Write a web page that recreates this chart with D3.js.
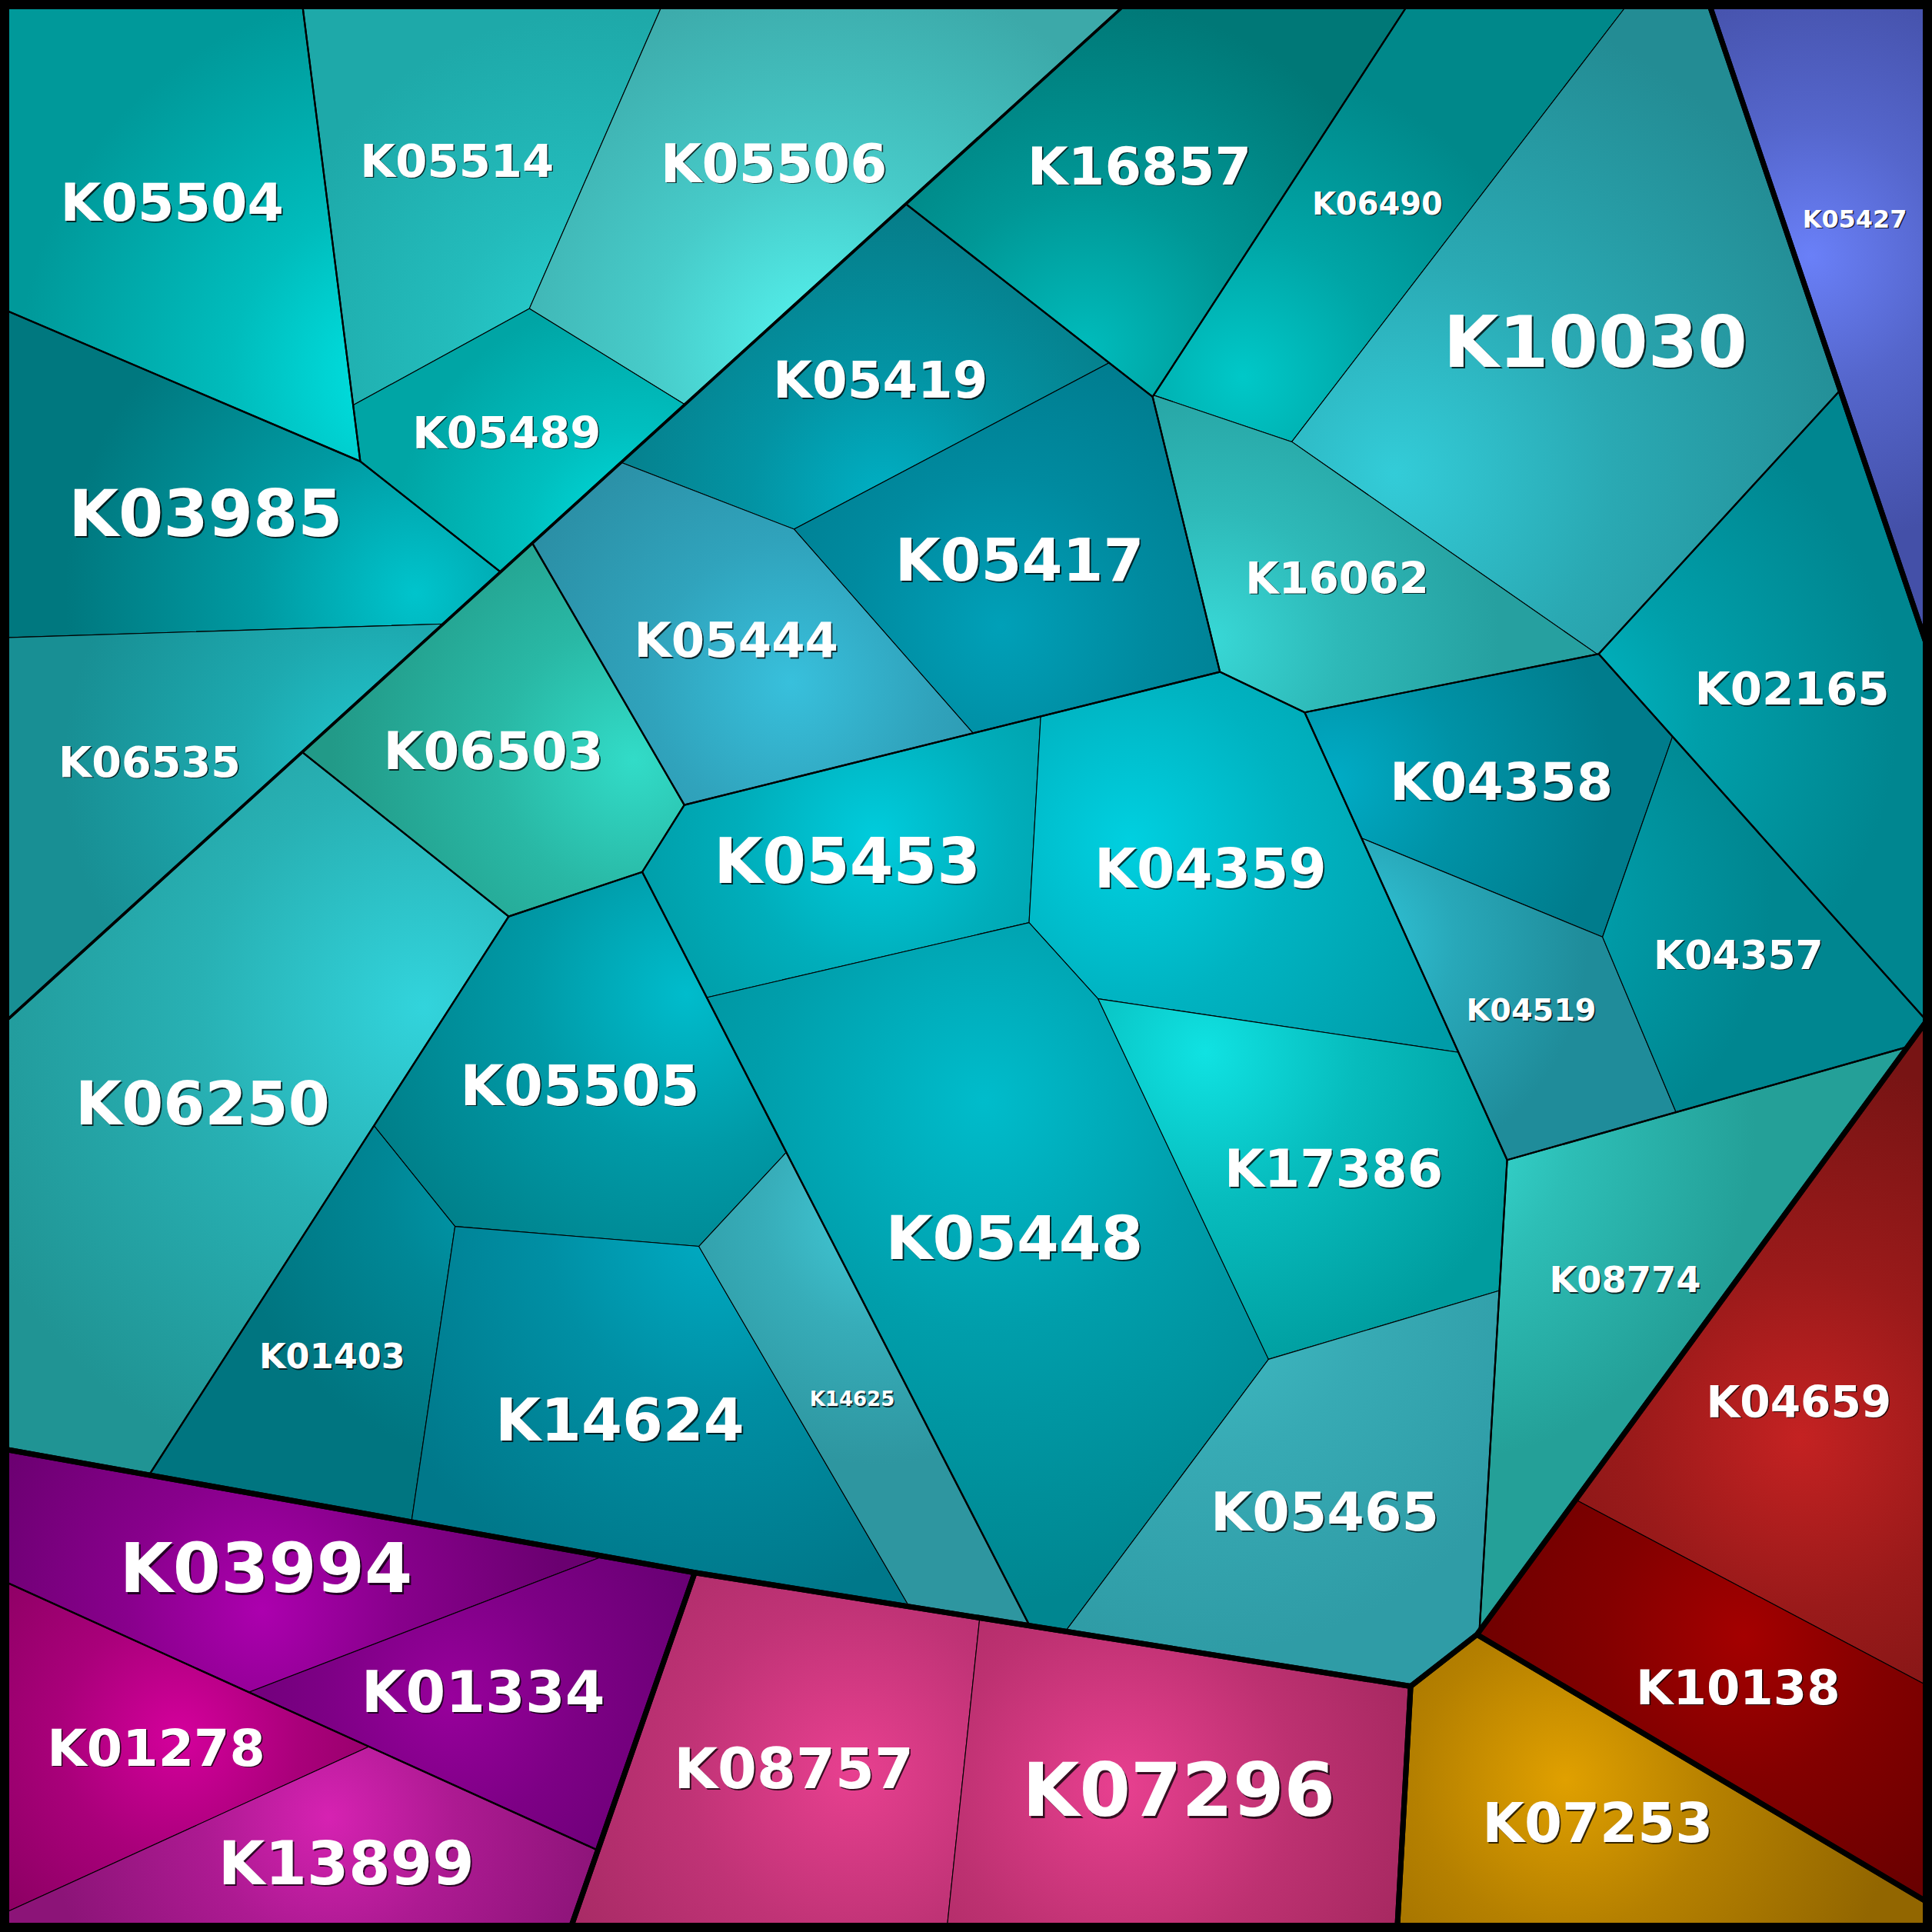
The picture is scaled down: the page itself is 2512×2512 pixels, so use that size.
<!DOCTYPE html>
<html>
<head>
<meta charset="utf-8">
<script src="https://cdn.jsdelivr.net/npm/d3@7"></script>
<style>
  body { margin: 0; background: #000; }
  svg { display: block; }
</style>
</head>
<body>
<div id="treemap"></div>
<script>
// DATA: one entry per KEGG ortholog
var names = ["K05504", "K05514", "K05506", "K05489", "K03985", "K06535",
    "K16857", "K06490", "K10030", "K16062", "K05419", "K05417", "K05444",
    "K06503", "K02165", "K04358", "K04519", "K04357", "K05453", "K04359",
    "K05448", "K17386", "K05465", "K06250", "K05505", "K01403", "K14624",
    "K14625", "K08774", "K05427", "K04659", "K10138", "K07253", "K08757",
    "K07296", "K03994", "K01334", "K01278", "K13899"];

var values = [80.0, 60.5, 80.2, 30.9, 66.3, 55.2,
    66.2, 52.9, 126.5, 45.1, 48.3, 61.1, 53.1,
    49.4, 68.1, 42.1, 31.5, 41.3, 47.7, 70.4,
    136.6, 60.8, 69.6, 134.1, 64.7, 42.7, 77.1,
    33.9, 60.7, 45.8, 76.6, 53.4, 59.5, 73.0,
    79.9, 49.6, 42.7, 39.5, 41.9];

// hierarchy: top level, second level, third level
var level1 = ["cyan", "cyan", "cyan", "cyan", "cyan", "cyan",
    "cyan", "cyan", "cyan", "cyan", "cyan", "cyan", "cyan",
    "cyan", "cyan", "cyan", "cyan", "cyan", "cyan", "cyan",
    "cyan", "cyan", "cyan", "cyan", "cyan", "cyan", "cyan",
    "cyan", "cyan", "blue", "red", "red", "orange", "pink",
    "pink", "purple", "purple", "purple", "purple"];

var level2 = ["ul", "ul", "ul", "ul", "ul", "ul",
    "main", "main", "main", "main", "main", "main", "main",
    "main", "main", "main", "main", "main", "main", "main",
    "main", "main", "main", "main", "main", "main", "main",
    "main", "main", "blue", "red", "red", "orange", "pink",
    "pink", "purple", "purple", "purple", "purple"];

var level3 = ["a", "b", "b", "b", "c", "c",
    "m1", "m2", "m2", "m2", "m3", "m3", "m3",
    "m4", "m5", "m6", "m6", "m6", "m7", "m7",
    "m7", "m7", "m7", "m8", "m9", "m9", "m9",
    "m9", "m10", "blue", "red", "red", "orange", "pink",
    "pink", "pa", "pa", "pb", "pb"];

// LAYOUT SEEDS: generator sites of the power diagram (unit square)
var seedX = [0.081, 0.216, 0.360, 0.302, 0.076, 0.080,
    0.587, 0.744, 0.787, 0.682, 0.458, 0.505, 0.382,
    0.258, 0.930, 0.794, 0.746, 0.920, 0.456, 0.651,
    0.492, 0.640, 0.709, 0.090, 0.320, 0.151, 0.307,
    0.420, 0.827, 0.959, 0.941, 0.877, 0.807, 0.411,
    0.610, 0.164, 0.220, 0.105, 0.158];
var seedY = [0.099, 0.055, 0.118, 0.212, 0.267, 0.395,
    0.085, 0.128, 0.161, 0.312, 0.174, 0.263, 0.371,
    0.395, 0.367, 0.419, 0.536, 0.463, 0.469, 0.480,
    0.624, 0.554, 0.786, 0.568, 0.586, 0.722, 0.745,
    0.679, 0.666, 0.109, 0.740, 0.861, 0.944, 0.913,
    0.934, 0.767, 0.913, 0.878, 0.994];

var groupSeeds = {
    "cyan": [0.4145, 0.3827], "blue": [0.8374, 0.2392], "red": [0.7513, 0.6295],
    "orange": [0.6888, 0.7347], "pink": [0.3615, 0.7166], "purple": [0.3552, 0.7144],
    "cyan/ul": [0.286, 0.241], "cyan/main": [0.543, 0.524],
    "cyan/ul/a": [0.193, 0.123], "cyan/ul/b": [0.264, 0.114], "cyan/ul/c": [0.118, 0.299],
    "cyan/main/m1": [0.593, 0.098], "cyan/main/m2": [0.742, 0.195],
    "cyan/main/m3": [0.464, 0.263], "cyan/main/m4": [0.228, 0.400],
    "cyan/main/m5": [0.932, 0.369], "cyan/main/m6": [0.800, 0.487],
    "cyan/main/m7": [0.548, 0.601], "cyan/main/m8": [0.099, 0.562],
    "cyan/main/m9": [0.332, 0.712], "cyan/main/m10": [0.837, 0.618],
    "purple/purple/pa": [0.186, 0.828], "purple/purple/pb": [0.133, 0.945]
};

// STYLE: outer and glow colour of each cell
var edgeColours = ["#00999a", "#1ea9a9", "#3ca9a9", "#00a5a5", "#00787f", "#188f94",
    "#007877", "#00888a", "#238c94", "#26a0a0", "#067c88", "#00788a", "#2a8ca2",
    "#229a88", "#008690", "#007c8c", "#1f8c9a", "#008690", "#0096a0", "#009ca8",
    "#008690", "#009c9e", "#2f9ca6", "#209494", "#007e88", "#007580", "#00788a",
    "#2e96a0", "#24a098", "#4450a8", "#781414", "#680000", "#926600", "#a02860",
    "#9a2458", "#6a0070", "#660072", "#86005e", "#8c1478"];
var glowColours = ["#00e6e6", "#28d2d2", "#55f5f0", "#00dede", "#00c4cc", "#22c8d0",
    "#00bcbc", "#00c8c8", "#33ccd8", "#38d8d6", "#00b0c4", "#00a0b8", "#38c0dc",
    "#32dcc8", "#00bcc8", "#00acc6", "#32cade", "#00b0be", "#00ccdc", "#00d0e0",
    "#00bccb", "#10e2e2", "#40bcc4", "#32d4dc", "#00bccc", "#009db0", "#00acc4",
    "#42cad8", "#38e2da", "#6a80f8", "#c42222", "#a40000", "#e0a000", "#e84090",
    "#e84090", "#ac00ae", "#98009c", "#d4009c", "#d622b2"];

// basic dimensions
var width = 2512;
var height = 2512;
var inset = 6;

var x = d3.scaleLinear().domain([0, 1]).range([inset, width - inset]);
var y = d3.scaleLinear().domain([0, 1]).range([inset, height - inset]);

// stroke width by depth, leaves get the thinnest line
var strokeByDepth = { 1: 7, 2: 3.6, 3: 2.2 };
var leafStroke = 1.1;

// build the nested tree from the level arrays
var tree = { name: "root", children: [] };
names.forEach(function(n, i) {
    var node = tree;
    var path = [];
    [level1[i], level2[i], level3[i]].forEach(function(key) {
        path.push(key);
        var child = node.children.find(function(c) { return c.name === key; });
        if (!child) {
            child = { name: key, path: path.join("/"), children: [] };
            node.children.push(child);
        }
        node = child;
    });
    node.children.push({ name: n, value: values[i], index: i });
});

var root = d3.hierarchy(tree).sum(function(d) { return d.value || 0; });

// generator sites: leaves from their seeds, groups from the group seeds
root.eachAfter(function(d) {
    if (!d.children) {
        d.site = [x(seedX[d.data.index]), y(seedY[d.data.index])];
    } else if (groupSeeds[d.data.path]) {
        var g = groupSeeds[d.data.path];
        d.site = [x(g[0]), y(g[1])];
    } else {
        var sx = 0, sy = 0;
        d.children.forEach(function(c) {
            sx += c.site[0] * c.value;
            sy += c.site[1] * c.value;
        });
        d.site = [sx / d.value, sy / d.value];
    }
});

// power diagram tools
function clipHalf(poly, nx, ny, c) {
    var out = [];
    for (var k = 0; k < poly.length; k++) {
        var p = poly[k], q = poly[(k + 1) % poly.length];
        var dp = p[0] * nx + p[1] * ny - c,
            dq = q[0] * nx + q[1] * ny - c;
        if (dp <= 0) out.push(p);
        if ((dp < 0 && dq > 0) || (dp > 0 && dq < 0)) {
            var t = dp / (dp - dq);
            out.push([p[0] + t * (q[0] - p[0]), p[1] + t * (q[1] - p[1])]);
        }
    }
    return out;
}

function powerCell(clip, s, w, i) {
    var poly = clip, si = s[i];
    for (var j = 0; j < s.length && poly.length > 2; j++) {
        if (j === i) continue;
        var nx = s[j][0] - si[0], ny = s[j][1] - si[1];
        var c = (s[j][0] * s[j][0] + s[j][1] * s[j][1] - si[0] * si[0] - si[1] * si[1] + w[i] - w[j]) / 2;
        poly = clipHalf(poly, nx, ny, c);
    }
    return poly;
}

function cellArea(poly) {
    return poly.length > 2 ? Math.abs(d3.polygonArea(poly)) : 0;
}

// adjust the weights (Newton step per cell) until each cell has its value's area
function powerLayout(clip, sites, vals) {
    var n = sites.length;
    var total = cellArea(clip);
    var sum = d3.sum(vals);
    var target = vals.map(function(v) { return v / sum * total; });
    var w = new Array(n).fill(0);
    for (var it = 0; it < 3000; it++) {
        var dw = [], maxErr = 0;
        for (var i = 0; i < n; i++) {
            var a = cellArea(powerCell(clip, sites, w, i));
            w[i] += 1;
            var slope = cellArea(powerCell(clip, sites, w, i)) - a;
            w[i] -= 1;
            var err = target[i] - a;
            maxErr = Math.max(maxErr, Math.abs(err) / target[i]);
            dw[i] = (a > 0 && slope > 1e-9) ? 0.7 * err / slope : 0.1 * target[i];
        }
        for (var k = 0; k < n; k++) w[k] += dw[k];
        if (maxErr < 1e-4) break;
    }
    return sites.map(function(s, i) { return powerCell(clip, sites, w, i); });
}

root.polygon = [[x(0), y(0)], [x(1), y(0)], [x(1), y(1)], [x(0), y(1)]];
root.eachBefore(function(d) {
    if (!d.children) return;
    if (d.children.length === 1) {
        d.children[0].polygon = d.polygon;
        return;
    }
    var cells = powerLayout(d.polygon,
        d.children.map(function(c) { return c.site; }),
        d.children.map(function(c) { return c.value; }));
    d.children.forEach(function(c, i) { c.polygon = cells[i]; });
});

// DRAW
var svg = d3.select("#treemap")
    .append("svg")
    .attr("width", width)
    .attr("height", height);

svg.append("rect")
    .attr("width", width)
    .attr("height", height)
    .attr("fill", "#000");

var defs = svg.append("defs");
var leaves = root.leaves();
var middle = [width / 2, height / 2];

leaves.forEach(function(d) {
    d.centroid = d3.polygonCentroid(d.polygon);
    d.area = cellArea(d.polygon);
    // the glow leans towards the middle of its top level group
    var top = d.ancestors().find(function(a) { return a.depth === 1; });
    var alone = top.leaves().length === 1;
    var tc = alone ? middle : d3.polygonCentroid(top.polygon);
    var pull = alone ? 0.05 : 0.3;
    var i = d.data.index;
    var g = defs.append("radialGradient")
        .attr("id", "glow" + i)
        .attr("gradientUnits", "userSpaceOnUse")
        .attr("cx", d.centroid[0] + pull * (tc[0] - d.centroid[0]))
        .attr("cy", d.centroid[1] + pull * (tc[1] - d.centroid[1]))
        .attr("r", 1.1 * Math.sqrt(d.area));
    g.append("stop").attr("offset", "0%").attr("stop-color", glowColours[i]);
    g.append("stop").attr("offset", "45%")
        .attr("stop-color", d3.interpolateRgb(glowColours[i], edgeColours[i])(0.55));
    g.append("stop").attr("offset", "100%").attr("stop-color", edgeColours[i]);
});

var line = function(poly) { return "M" + poly.join("L") + "Z"; };

svg.append("g")
    .selectAll("path")
    .data(leaves)
    .join("path")
    .attr("d", function(d) { return line(d.polygon); })
    .attr("fill", function(d) { return "url(#glow" + d.data.index + ")"; })
    .attr("stroke", "#000")
    .attr("stroke-width", leafStroke)
    .attr("stroke-linejoin", "round");

// group outlines, deeper first so the top level lines sit on top
var groups = root.descendants()
    .filter(function(d) { return d.depth > 0 && d.children; })
    .sort(function(a, b) { return b.depth - a.depth; });

svg.append("g")
    .selectAll("path")
    .data(groups)
    .join("path")
    .attr("d", function(d) { return line(d.polygon); })
    .attr("fill", "none")
    .attr("stroke", "#000")
    .attr("stroke-width", function(d) { return strokeByDepth[d.depth]; })
    .attr("stroke-linejoin", "round");

// outer frame
svg.append("rect")
    .attr("x", inset)
    .attr("y", inset)
    .attr("width", width - 2 * inset)
    .attr("height", height - 2 * inset)
    .attr("fill", "none")
    .attr("stroke", "#000")
    .attr("stroke-width", 2 * inset);

// LABELS
var font = "DejaVu Sans, Verdana, sans-serif";

// measure each label at 100px to size it to its cell
var probe = svg.append("text")
    .style("font-family", font)
    .style("font-weight", "bold")
    .style("font-size", "100px");

function chord(poly, yy) {
    var xs = [];
    for (var k = 0; k < poly.length; k++) {
        var p = poly[k], q = poly[(k + 1) % poly.length];
        if ((p[1] - yy) * (q[1] - yy) <= 0 && p[1] !== q[1]) {
            xs.push(p[0] + (yy - p[1]) / (q[1] - p[1]) * (q[0] - p[0]));
        }
    }
    return xs.length ? [d3.min(xs), d3.max(xs)] : [0, 0];
}

// largest font whose text box (centred on c) stays inside the convex cell
function boxFit(poly, c, halfW, halfH) {
    // d3.polygonArea is negative when the interior lies left of each edge
    var sgn = d3.polygonArea(poly) < 0 ? 1 : -1;
    var best = Infinity;
    [[1, 1], [1, -1], [-1, 1], [-1, -1]].forEach(function(s) {
        var v = [s[0] * halfW, s[1] * halfH];
        for (var k = 0; k < poly.length; k++) {
            var a = poly[k], b = poly[(k + 1) % poly.length];
            var ex = b[0] - a[0], ey = b[1] - a[1];
            var c0 = sgn * (ex * (c[1] - a[1]) - ey * (c[0] - a[0]));
            var cv = sgn * (ex * v[1] - ey * v[0]);
            if (cv < 0 && c0 > 0) best = Math.min(best, -c0 / cv);
        }
    });
    return best;
}

leaves.forEach(function(d) {
    probe.text(d.data.name);
    var perPx = probe.node().getComputedTextLength() / 100;
    var ch = chord(d.polygon, d.centroid[1]);
    var lx = (d.centroid[0] + (ch[0] + ch[1]) / 2) / 2;
    var room = 2 * Math.min(lx - ch[0], ch[1] - lx);
    d.labelPos = [lx, d.centroid[1]];
    d.fontSize = Math.min(0.25 * Math.sqrt(d.area),
        0.72 * room / perPx,
        0.76 * boxFit(d.polygon, d.labelPos, perPx / 2, 0.365));
});
probe.remove();

var labels = svg.append("g")
    .selectAll("g")
    .data(leaves)
    .join("g")
    .attr("transform", function(d) {
        return "translate(" + d.labelPos[0] + "," + d.labelPos[1] + ")";
    })
    .style("font-family", font)
    .style("font-weight", "bold")
    .attr("text-anchor", "middle");

labels.append("text")
    .attr("x", function(d) { return Math.max(1.5, d.fontSize * 0.025); })
    .attr("y", function(d) { return Math.max(1.5, d.fontSize * 0.025); })
    .attr("dy", "0.36em")
    .style("font-size", function(d) { return d.fontSize + "px"; })
    .attr("fill", "#000")
    .attr("fill-opacity", 0.75)
    .text(function(d) { return d.data.name; });

labels.append("text")
    .attr("dy", "0.36em")
    .style("font-size", function(d) { return d.fontSize + "px"; })
    .attr("fill", "#fff")
    .text(function(d) { return d.data.name; });
</script>
</body>
</html>
